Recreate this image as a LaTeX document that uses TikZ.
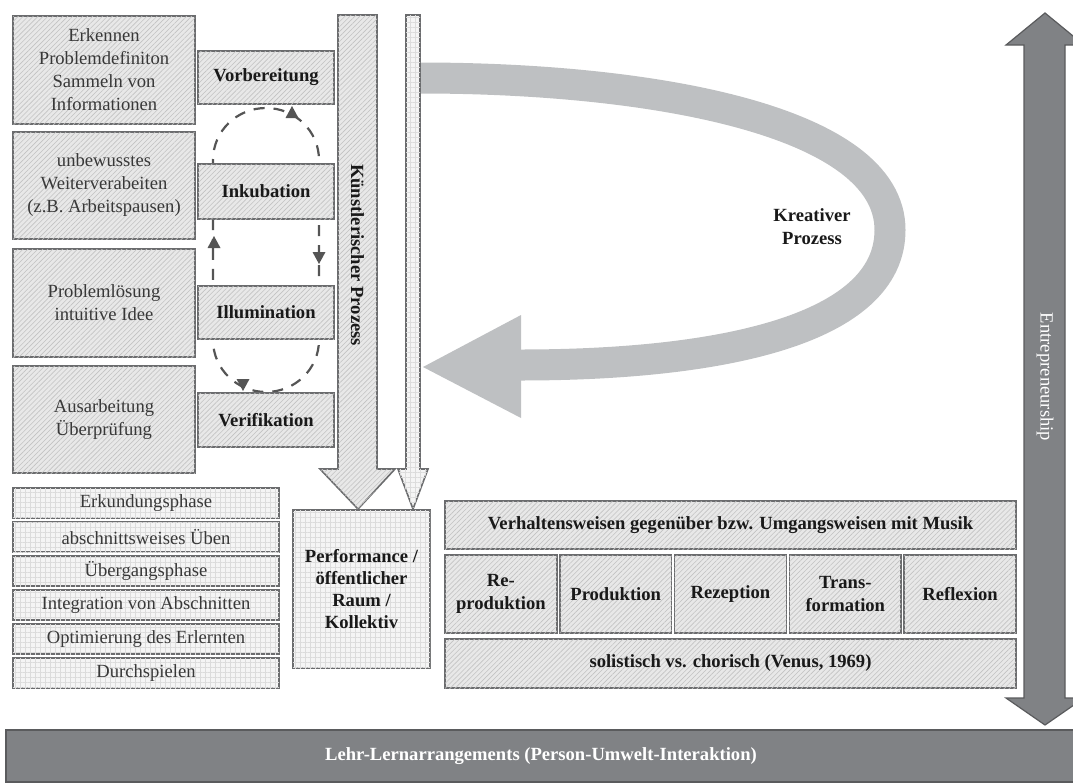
\documentclass[tikz,border=0pt]{standalone}
\usepackage{fontspec}
\setmainfont{Liberation Serif}
\usetikzlibrary{positioning,patterns.meta}
\definecolor{boxline}{HTML}{6B6C6E}
\definecolor{hatchbg}{HTML}{E8E8E8}
\definecolor{hatchln}{HTML}{C2C2C2}
\definecolor{gridbg}{HTML}{F5F5F5}
\definecolor{gridln}{HTML}{DCDCDC}
\definecolor{darkarrow}{HTML}{808285}
\definecolor{darkedge}{HTML}{5A5B5D}
\definecolor{lightarrow}{HTML}{BEC0C2}
\definecolor{loopgray}{HTML}{555555}
\definecolor{txtgray}{HTML}{383838}

\begin{document}
\begin{tikzpicture}[
  x=1pt, y=-1pt,
  font=\fontsize{18.6}{23}\selectfont,
  hatchfill/.style={draw=boxline, line width=1.6pt, fill=hatchbg,
    postaction={pattern={Lines[angle=45,distance=3.5pt,line width=0.6pt]}, pattern color=hatchln}},
  gridfill/.style={draw=boxline, line width=1.6pt, fill=gridbg,
    postaction={pattern={Hatch[angle=0,distance=5pt,line width=0.45pt]}, pattern color=gridln}},
  infobox/.style={hatchfill, align=center, inner sep=0pt, text=txtgray, minimum width=182pt},
  stagebox/.style={hatchfill, align=center, inner sep=0pt, text=black!90, minimum width=136pt,
    font=\fontsize{18.6}{23}\selectfont\bfseries},
  phasebox/.style={gridfill, align=center, inner sep=0pt, text=txtgray, minimum width=266pt, minimum height=30pt},
  modebox/.style={hatchfill, align=center, inner sep=0pt, text=black!90,
    font=\fontsize{18.6}{23}\selectfont\bfseries},
  cycleline/.style={draw=loopgray, line width=2.2pt, dash pattern=on 11pt off 9pt},
  loopmark/.style={fill=loopgray}
]
  \useasboundingbox (0,0) rectangle (1073,782);

  \draw[line width=31pt, draw=lightarrow] (420,78) .. controls (650,78) and (890,120) .. (890,230)
    .. controls (890,330) and (720,365) .. (520,365);
  \fill[lightarrow] (521,315) -- (423,367) -- (521,418) -- cycle;
  \node[font=\fontsize{18.6}{23}\selectfont\bfseries, align=center, text=black!90] (krea) at (812,227) {Kreativer\\Prozess};

  \draw[cycleline] (213,250) -- (213,160) .. controls (213,131) and (237,108) .. (266,108)
    .. controls (295,108) and (319,131) .. (319,160) -- (319,340)
    .. controls (319,369) and (295,392) .. (266,392) .. controls (237,392) and (213,369) .. (213,340) -- cycle;

  \node[infobox, minimum height=108pt] (info1) at (104,70) {Erkennen\\Problemdefiniton\\Sammeln von\\Informationen};
  \node[infobox, minimum height=107pt] (info2) at (104,185.5) {unbewusstes\\Weiterverabeiten\\(z.B. Arbeitspausen)};
  \node[infobox, minimum height=108pt] (info3) at (104,303) {Problemlösung\\intuitive Idee};
  \node[infobox, minimum height=107pt] (info4) at (104,419.5) {Ausarbeitung\\Überprüfung};

  \node[stagebox, minimum height=53pt] (vorb) at (266,77.5) {Vorbereitung};
  \node[stagebox, minimum height=55pt] (inku) at (266,191.5) {Inkubation};
  \node[stagebox, minimum height=53pt] (illu) at (266,312.5) {Illumination};
  \node[stagebox, minimum height=54pt] (veri) at (266,420) {Verifikation};

  \fill[loopmark] (292,106) -- (298.5,118) -- (285.5,118) -- cycle;
  \fill[loopmark] (214,236) -- (220.5,248) -- (207.5,248) -- cycle;
  \fill[loopmark] (319,264) -- (325.5,252) -- (312.5,252) -- cycle;
  \fill[loopmark] (243,391) -- (249.5,379) -- (236.5,379) -- cycle;

  \draw[hatchfill] (338,15) -- (377,15) -- (377,469) -- (395,469) -- (358,509) -- (320,469) -- (338,469) -- cycle;
  \node[rotate=-90, font=\fontsize{18.6}{23}\selectfont\bfseries, text=black!90] (kuenst) at (357.5,255) {Künstlerischer Prozess};
  \draw[gridfill] (406,15) -- (420,15) -- (420,469) -- (428,469) -- (413,509) -- (398,469) -- (406,469) -- cycle;

  \node[gridfill, align=center, inner sep=0pt, minimum width=137pt, minimum height=158pt, text=black!90,
    font=\fontsize{18.6}{22}\selectfont\bfseries] (perf) at (361.5,589) {Performance /\\öffentlicher\\Raum /\\Kollektiv};

  \foreach \txt [count=\i] in {Erkundungsphase, abschnittsweises Üben, Übergangsphase,
      Integration von Abschnitten, Optimierung des Erlernten, Durchspielen}
    \node[phasebox] (phase\i) at (146,469+34*\i) {\txt};

  \node[modebox, minimum width=571pt, minimum height=48pt] (behav) at (730.5,525) {Verhaltensweisen gegenüber bzw. Umgangsweisen mit Musik};
  \foreach \txt [count=\i] in {Re-\\produktion, Produktion, Rezeption, Trans-\\formation, Reflexion}
    \node[modebox, minimum width=111.8pt, minimum height=78pt] (mode\i) at (386.1+114.8*\i,594) {\txt};
  \node[modebox, minimum width=571pt, minimum height=49pt] (solo) at (730.5,663.5) {solistisch vs. chorisch (Venus, 1969)};

  \draw[fill=darkarrow, draw=darkedge, line width=1.2pt] (1045,13) -- (1084,45) -- (1065,45) -- (1065,698)
    -- (1084,698) -- (1045,725) -- (1006,698) -- (1024,698) -- (1024,45) -- (1006,45) -- cycle;
  \node[rotate=-90, text=white] (entre) at (1045,377) {Entrepreneurship};

  \node[fill=darkarrow, draw=darkedge, line width=1.2pt, minimum width=1070pt, minimum height=52pt,
    text=white, font=\fontsize{18.6}{23}\selectfont\bfseries] (lehr) at (541,756) {Lehr-Lernarrangements (Person-Umwelt-Interaktion)};
\end{tikzpicture}
\end{document}
